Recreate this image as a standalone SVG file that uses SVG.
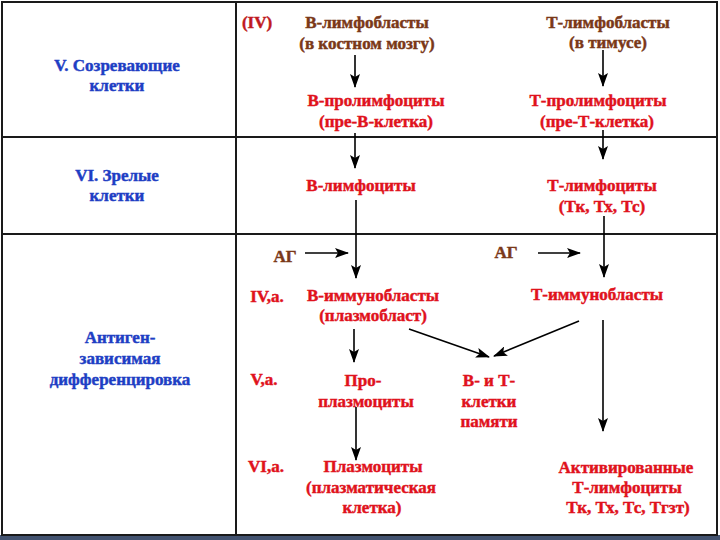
<svg xmlns="http://www.w3.org/2000/svg" width="720" height="540" viewBox="0 0 720 540" font-family="Liberation Serif, Times New Roman, serif">
<style>
text{font-weight:700;font-size:17px;text-anchor:middle;stroke-width:0.45}
.blue{fill:#1e3ec4;stroke:#1e3ec4}
.brown{fill:#7a3818;stroke:#7a3818}
.red{fill:#e0121c;stroke:#e0121c}
.dred{fill:#c01a1e;stroke:#c01a1e}
.grid{stroke:#1a1a1a;stroke-width:2;fill:none}
.conn{stroke:#000;stroke-width:1.6;fill:none;marker-end:url(#ah)}
</style>
<defs>
<marker id="ah" viewBox="0 0 14 10" refX="13" refY="5" markerWidth="14" markerHeight="10" markerUnits="userSpaceOnUse" orient="auto">
<path d="M0,0 L14,5 L0,10 L3,5 Z" fill="#000"/>
</marker>
</defs>
<rect x="0" y="0" width="720" height="540" fill="#fff"/>
<rect x="0" y="535" width="720" height="5" fill="#435370"/>
<g id="table">
<rect class="grid" x="2" y="2" width="715" height="533"/>
<line class="grid" x1="236" y1="2" x2="236" y2="535"/>
<line class="grid" x1="2" y1="137" x2="717" y2="137"/>
<line class="grid" x1="2" y1="234" x2="717" y2="234"/>
</g>
<g id="row-labels">
<g id="lbl-v"><text class="blue" x="117" y="71">V. Созревающие</text><text class="blue" x="117" y="91">клетки</text></g>
<g id="lbl-vi"><text class="blue" x="117" y="181">VI. Зрелые</text><text class="blue" x="117" y="201">клетки</text></g>
<g id="lbl-ag"><text class="blue" x="120" y="343">Антиген-</text><text class="blue" x="120" y="364">зависимая</text><text class="blue" x="120" y="385">дифференцировка</text></g>
</g>
<g id="stage-labels">
<text class="dred" x="257" y="28">(IV)</text>
<text class="red" x="267" y="302">IV,а.</text>
<text class="red" x="264" y="385">V,а.</text>
<text class="red" x="266" y="472">VI,а.</text>
</g>
<g id="b-lymphoblasts"><text class="brown" x="367" y="28">В-лимфобласты</text><text class="brown" x="367" y="49">(в костном мозгу)</text></g>
<g id="b-prolymphocytes"><text class="red" x="376" y="106">В-пролимфоциты</text><text class="red" x="376" y="127">(пре-В-клетка)</text></g>
<g id="b-lymphocytes"><text class="red" x="361" y="191">В-лимфоциты</text></g>
<g id="ag-b"><text class="brown" x="285" y="262">АГ</text></g>
<g id="b-immunoblasts"><text class="red" x="373" y="301">В-иммунобласты</text><text class="red" x="373" y="321">(плазмобласт)</text></g>
<g id="proplasmocytes"><text class="red" x="363" y="386">Про-</text><text class="red" x="366" y="407">плазмоциты</text></g>
<g id="plasmocytes"><text class="red" x="373" y="472">Плазмоциты</text><text class="red" x="371" y="493">(плазматическая</text><text class="red" x="372" y="513">клетка)</text></g>
<g id="memory"><text class="red" x="489" y="386">В- и Т-</text><text class="red" x="489" y="407">клетки</text><text class="red" x="489" y="427">памяти</text></g>
<g id="t-lymphoblasts"><text class="brown" x="608" y="28">Т-лимфобласты</text><text class="brown" x="608" y="48">(в тимусе)</text></g>
<g id="t-prolymphocytes"><text class="red" x="598" y="106">Т-пролимфоциты</text><text class="red" x="597" y="127">(пре-Т-клетка)</text></g>
<g id="t-lymphocytes"><text class="red" x="602" y="191">Т-лимфоциты</text><text class="red" x="602" y="212">(Тк, Тх, Тс)</text></g>
<g id="ag-t"><text class="brown" x="506" y="258">АГ</text></g>
<g id="t-immunoblasts"><text class="red" x="597" y="300">Т-иммунобласты</text></g>
<g id="activated-t"><text class="red" x="626" y="473">Активированные</text><text class="red" x="627" y="493">Т-лимфоциты</text><text class="red" x="628" y="513">Тк, Тх, Тс, Тгзт)</text></g>
<g id="connectors">
<line class="conn" x1="355" y1="55" x2="355" y2="87"/>
<line class="conn" x1="355" y1="133" x2="355" y2="168"/>
<line class="conn" x1="356" y1="200" x2="356" y2="278"/>
<line class="conn" x1="305" y1="253" x2="348" y2="253"/>
<line class="conn" x1="354" y1="329" x2="354" y2="362"/>
<line class="conn" x1="409" y1="329" x2="489" y2="357"/>
<line class="conn" x1="356" y1="407" x2="356" y2="460"/>
<line class="conn" x1="603" y1="50" x2="603" y2="86"/>
<line class="conn" x1="603" y1="130" x2="603" y2="159"/>
<line class="conn" x1="604" y1="216" x2="604" y2="277"/>
<line class="conn" x1="538" y1="253" x2="580" y2="253"/>
<line class="conn" x1="579" y1="321" x2="494" y2="356"/>
<line class="conn" x1="603" y1="320" x2="603" y2="431"/>
</g>
</svg>
